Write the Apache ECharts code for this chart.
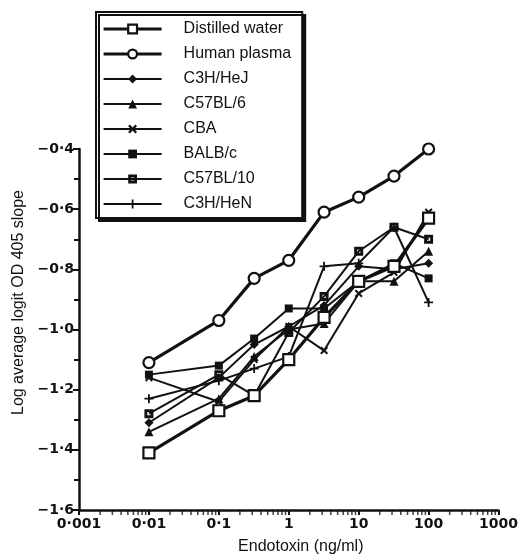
<!DOCTYPE html>
<html>
<head>
<meta charset="utf-8">
<script src="https://cdn.jsdelivr.net/npm/echarts@6/dist/echarts.min.js"></script>
<style>
  html, body { margin: 0; padding: 0; background: #fff; }
  #chart { width: 521px; height: 560px; }
</style>
</head>
<body>
<div id="chart"></div>
<script>
// endotoxin doses (ng/ml)
var doses = [0.01, 0.1, 0.32, 1, 3.2, 10, 32, 100];

var distilledWater = [-1.41, -1.27, -1.22, -1.10, -0.96, -0.84, -0.79, -0.63];
var humanPlasma    = [-1.11, -0.97, -0.83, -0.77, -0.61, -0.56, -0.49, -0.40];
var c3hHeJ         = [-1.31, -1.16, -1.05, -0.99, -0.92, -0.79, -0.80, -0.78];
var c57bl6         = [-1.34, -1.23, -1.09, -1.00, -0.98, -0.84, -0.84, -0.74];
var cba            = [-1.16, -1.24, -1.10, -0.99, -1.07, -0.88, -0.81, -0.61];
var balbC          = [-1.15, -1.12, -1.03, -0.93, -0.93, -0.84, -0.78, -0.83];
var c57bl10        = [-1.28, -1.15, -1.22, -1.01, -0.89, -0.74, -0.66, -0.70];
var c3hHeN         = [-1.23, -1.17, -1.13, -1.09, -0.79, -0.78, -0.66, -0.91];

var xTickLabels = ['0·001', '0·01', '0·1', '1', '10', '100', '1000'];
var xMinorTicks = [];
[0.001, 0.01, 0.1, 1, 10, 100].forEach(function (d) {
    for (var k = 2; k <= 9; k++) xMinorTicks.push([d * k, -1.6]);
});

var plusPath = 'path://M4,0 L6,0 L6,4 L10,4 L10,6 L6,6 L6,10 L4,10 L4,6 L0,6 L0,4 L4,4 Z';
var crossPath = 'path://M0,1.8 L1.8,0 L5,3.2 L8.2,0 L10,1.8 L6.8,5 L10,8.2 L8.2,10 L5,6.8 L1.8,10 L0,8.2 L3.2,5 Z';
// black square with a small white centre
var dotSquarePath = 'path://M0,0 L10,0 L10,10 L0,10 Z M3.2,3.2 L3.2,6.8 L6.8,6.8 L6.8,3.2 Z';

function pairs(vals) {
    return vals.map(function (v, i) { return [doses[i], v]; });
}

function line(name, vals, symbol, size, opt) {
    opt = opt || {};
    return {
        name: name,
        type: 'line',
        data: pairs(vals),
        symbol: symbol,
        symbolSize: size,
        showAllSymbol: true,
        lineStyle: { color: '#111', width: opt.width || 2 },
        itemStyle: {
            color: opt.fill || '#111',
            borderColor: '#111',
            borderWidth: opt.border || 0
        },
        emphasis: { disabled: true },
        z: opt.z || 2
    };
}

var chart = echarts.init(document.getElementById('chart'));
var option = {
    backgroundColor: '#fff',
    animation: false,
    grid: { left: 79, right: 21, top: 149, bottom: 46 },
    legend: {
        orient: 'vertical',
        left: 96,
        top: 12,
        padding: [9, 11, 6, 6],
        itemWidth: 58,
        itemHeight: 11,
        itemGap: 9,
        backgroundColor: '#fff',
        borderColor: '#111',
        borderWidth: 2,
        shadowColor: '#111',
        shadowOffsetX: 3,
        shadowOffsetY: 3,
        shadowBlur: 0,
        lineStyle: { width: 'inherit' },
        itemStyle: { borderWidth: 'inherit' },
        textStyle: {
            fontFamily: 'Liberation Sans',
            fontSize: 16,
            color: '#111',
            lineHeight: 16,
            padding: [0, 0, 0, 17]
        },
        data: ['Distilled water', 'Human plasma', 'C3H/HeJ', 'C57BL/6', 'CBA', 'BALB/c', 'C57BL/10', 'C3H/HeN']
    },
    xAxis: {
        type: 'log',
        logBase: 10,
        min: 0.001,
        max: 1000,
        name: 'Endotoxin (ng/ml)',
        nameLocation: 'middle',
        nameGap: 29,
        nameTextStyle: { fontFamily: 'Liberation Sans', fontSize: 16, color: '#111', padding: [0, 0, 0, 24] },
        axisLine: { lineStyle: { color: '#111', width: 2.5 } },
        axisTick: { show: true, length: 5, lineStyle: { color: '#111', width: 2 } },
        splitLine: { show: false },
        axisLabel: {
            color: '#111',
            fontFamily: 'DejaVu Sans',
            fontWeight: 'bold',
            fontSize: 14,
            margin: 7,
            formatter: function (v) {
                var e = Math.round(Math.log10(v));
                return xTickLabels[e + 3];
            }
        }
    },
    yAxis: {
        type: 'value',
        min: -1.6,
        max: -0.4,
        interval: 0.2,
        name: 'Log average logit OD 405 slope',
        nameLocation: 'middle',
        nameGap: 50,
        nameTextStyle: { fontFamily: 'Liberation Sans', fontSize: 16, color: '#111', padding: [0, 0, 0, 54] },
        axisLine: { show: true, lineStyle: { color: '#111', width: 2.5 } },
        axisTick: { show: true, length: 6, lineStyle: { color: '#111', width: 2 } },
        minorTick: { show: true, splitNumber: 2, length: 5, lineStyle: { color: '#111', width: 2 } },
        splitLine: { show: false },
        axisLabel: {
            color: '#111',
            fontFamily: 'DejaVu Sans',
            fontWeight: 'bold',
            fontSize: 14,
            margin: 5,
            formatter: function (v) {
                var s = Math.abs(v).toFixed(1).replace('.', '·');
                return (v < 0 ? '−' : '') + s;
            }
        }
    },
    series: [
        line('Distilled water', distilledWater, 'rect', 11, { width: 3.2, fill: '#fff', border: 2.2, z: 4 }),
        line('Human plasma', humanPlasma, 'circle', 11, { width: 3.2, fill: '#fff', border: 2.2, z: 4 }),
        line('C3H/HeJ', c3hHeJ, 'diamond', 9),
        line('C57BL/6', c57bl6, 'triangle', 9),
        line('CBA', cba, crossPath, 8),
        line('BALB/c', balbC, 'rect', 8),
        line('C57BL/10', c57bl10, dotSquarePath, 9),
        line('C3H/HeN', c3hHeN, plusPath, 9),
        {
            // log minor ticks along the x axis
            type: 'scatter',
            silent: true,
            clip: false,
            data: xMinorTicks,
            symbol: 'rect',
            symbolSize: [1.5, 4],
            symbolOffset: [0, 3],
            itemStyle: { color: '#111' },
            z: 1
        }
    ]
};
chart.setOption(option);
</script>
</body>
</html>
